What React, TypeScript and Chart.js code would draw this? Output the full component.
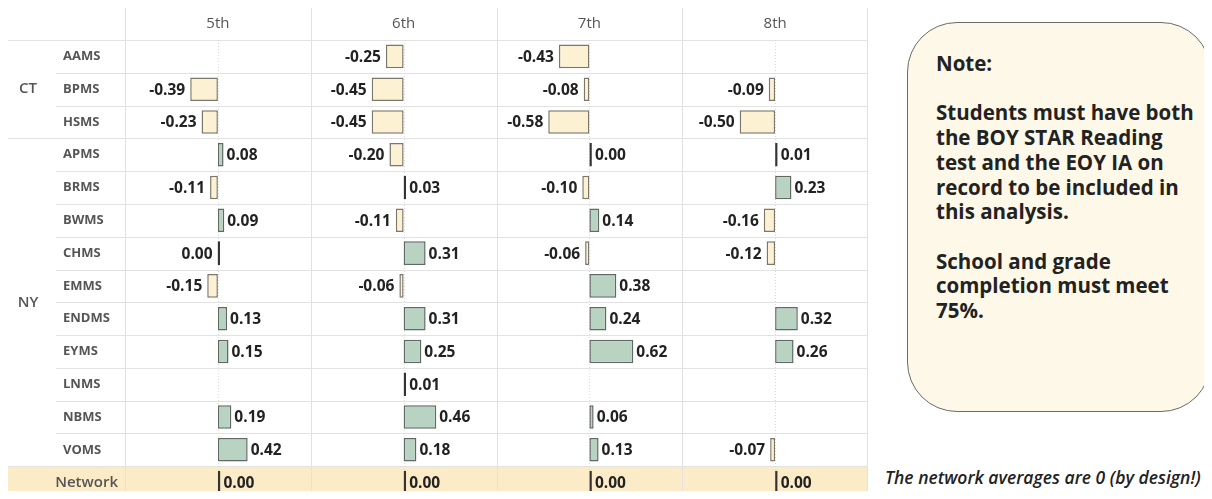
import React, { useEffect, useRef } from "react";
import { Chart, registerables } from "chart.js";

Chart.register(...registerables);

// ---------- data ----------
const schools = ["AAMS", "BPMS", "HSMS", "APMS", "BRMS", "BWMS", "CHMS", "EMMS", "ENDMS", "EYMS", "LNMS", "NBMS", "VOMS", "Network"];
const stateNames = ["CT", "NY"];
const stateRowCounts = [3, 10];
const grades = ["5th", "6th", "7th", "8th"];

const grade5: (number | null)[] = [null, -0.39, -0.23, 0.08, -0.11, 0.09, -0.004, -0.15, 0.13, 0.15, null, 0.19, 0.42, 0.0];
const grade6: (number | null)[] = [-0.25, -0.45, -0.45, -0.2, 0.03, -0.11, 0.31, -0.06, 0.31, 0.25, 0.01, 0.46, 0.18, 0.0];
const grade7: (number | null)[] = [-0.43, -0.08, -0.58, 0.0, -0.1, 0.14, -0.06, 0.38, 0.24, 0.62, null, 0.06, 0.13, 0.0];
const grade8: (number | null)[] = [null, -0.09, -0.5, 0.01, 0.23, -0.16, -0.12, null, 0.32, 0.26, null, null, -0.07, 0.0];

const gradeValues = [grade5, grade6, grade7, grade8];

// each grade panel spans -HALF..+HALF on the shared x scale
const HALF = 1.31;
const SPAN = HALF * 2;

const FONT = "'Open Sans', 'Noto Sans', sans-serif";
const POS_FILL = "#b9d3c3";
const NEG_FILL = "#fdf1d3";
const GRID = "#e2e2e2";

const fmt = (v: number) => (Math.abs(v) < 0.005 ? "0.00" : v.toFixed(2));

const tablePlugin = {
  id: "tablePlugin",
  beforeDatasetsDraw(chart: any) {
    const { ctx, chartArea: a, scales } = chart;
    const x = scales.x;
    const y = scales.y;
    const n = schools.length;
    const rowH = y.getPixelForValue(1) - y.getPixelForValue(0);
    const rowTop = (i: number) => y.getPixelForValue(i) - rowH / 2;
    ctx.save();

    // Network row background
    ctx.fillStyle = "#fcebc7";
    ctx.fillRect(0, rowTop(n - 1), a.right, a.bottom - rowTop(n - 1));

    // horizontal row lines
    ctx.strokeStyle = GRID;
    ctx.lineWidth = 1;
    const groupStarts = [0];
    let acc = 0;
    stateRowCounts.forEach((c) => {
      acc += c;
      groupStarts.push(acc);
    });
    for (let i = 0; i < n; i++) {
      const yy = Math.round(rowTop(i)) + 0.5;
      const full = groupStarts.includes(i);
      ctx.beginPath();
      ctx.moveTo(full ? 0 : 48, yy);
      ctx.lineTo(a.right, yy);
      ctx.stroke();
    }

    // vertical panel lines
    for (let j = 0; j <= grades.length; j++) {
      let xx = Math.round(x.getPixelForValue(j * SPAN)) + 0.5;
      if (xx > a.right - 0.5) xx = a.right - 0.5;
      ctx.beginPath();
      ctx.moveTo(xx, 0);
      ctx.lineTo(xx, a.bottom);
      ctx.stroke();
    }

    // zero reference lines (dotted)
    ctx.strokeStyle = "#d9d9d9";
    ctx.setLineDash([1, 2]);
    for (let j = 0; j < grades.length; j++) {
      const xx = Math.round(x.getPixelForValue(j * SPAN + HALF)) + 0.5;
      ctx.beginPath();
      ctx.moveTo(xx, a.top);
      ctx.lineTo(xx, a.bottom);
      ctx.stroke();
    }
    ctx.setLineDash([]);

    // grade headers
    ctx.fillStyle = "#555";
    ctx.font = `400 15px ${FONT}`;
    ctx.textAlign = "center";
    ctx.textBaseline = "middle";
    grades.forEach((g, j) => {
      ctx.fillText(g, x.getPixelForValue(j * SPAN + HALF), a.top / 2);
    });

    // school labels
    schools.forEach((s, i) => {
      const cy = y.getPixelForValue(i);
      if (i === n - 1) {
        ctx.font = `600 15px ${FONT}`;
        ctx.textAlign = "right";
        ctx.fillStyle = "#555";
        ctx.fillText(s, 110, cy);
      } else {
        ctx.font = `700 13px ${FONT}`;
        ctx.textAlign = "left";
        ctx.fillStyle = "#555";
        ctx.fillText(s, 55, cy);
      }
    });

    // state labels
    ctx.font = `600 15px ${FONT}`;
    ctx.textAlign = "center";
    ctx.fillStyle = "#555";
    let start = 0;
    stateNames.forEach((st, k) => {
      const end = start + stateRowCounts[k] - 1;
      const cy = (y.getPixelForValue(start) + y.getPixelForValue(end)) / 2;
      ctx.fillText(st, 20, cy);
      start = end + 1;
    });

    ctx.restore();
  },
  afterDatasetsDraw(chart: any) {
    const { ctx } = chart;
    ctx.save();
    ctx.font = `700 15.5px ${FONT}`;
    ctx.fillStyle = "#222";
    ctx.textBaseline = "middle";
    gradeValues.forEach((vals, j) => {
      const meta = chart.getDatasetMeta(j);
      vals.forEach((v, i) => {
        if (v == null) return;
        const el = meta.data[i];
        if (!el) return;
        const p = el.getProps(["x", "base", "y"], true);
        if (v < 0) {
          ctx.textAlign = "right";
          ctx.fillText(fmt(v), Math.min(p.x, p.base) - 5, p.y + 1);
        } else {
          ctx.textAlign = "left";
          ctx.fillText(fmt(v), Math.max(p.x, p.base) + 3, p.y + 1);
        }
      });
    });
    ctx.restore();
  },
};

export default function App() {
  const canvasRef = useRef<HTMLCanvasElement | null>(null);

  useEffect(() => {
    if (!canvasRef.current) return;
    const datasets = gradeValues.map((vals, j) => ({
      label: grades[j],
      data: vals.map((v) => (v == null ? null : [j * SPAN + HALF, j * SPAN + HALF + v])),
      backgroundColor: vals.map((v) => (v != null && v < 0 ? NEG_FILL : POS_FILL)),
      borderColor: vals.map((v) =>
        v != null && Math.abs(v) <= 0.03 ? "#333333" : v != null && v < 0 ? "#7d776b" : "#626864"
      ),
      borderWidth: 1.5,
      borderSkipped: false as any,
      grouped: false,
      categoryPercentage: 1,
      barPercentage: 0.72,
      minBarLength: 2.5,
    }));

    const chart = new Chart(canvasRef.current, {
      type: "bar",
      data: { labels: schools, datasets: datasets as any },
      options: {
        indexAxis: "y",
        responsive: true,
        maintainAspectRatio: false,
        animation: false,
        layout: { padding: { left: 117, top: 32, right: 0, bottom: 0 } },
        scales: {
          x: { type: "linear", min: 0, max: SPAN * grades.length, display: false },
          y: { type: "category", display: false, offset: true },
        },
        plugins: {
          legend: { display: false },
          tooltip: { enabled: false },
        },
      },
      plugins: [tablePlugin],
    });
    return () => chart.destroy();
  }, []);

  return (
    <div style={{ position: "relative", width: 1196, height: 491, marginBottom: -8 }}>
      <div style={{ position: "absolute", left: 0, top: 0, width: 860, height: 491 }}>
        <canvas ref={canvasRef} />
      </div>
      <div
        style={{
          position: "absolute",
          left: 899,
          top: 14,
          width: 304,
          height: 390,
          boxSizing: "border-box",
          border: "1px solid #6a6a6a",
          borderRadius: 50,
          background: "#fdf8e8",
          padding: "28px 4px 0 28px",
          fontFamily: FONT,
          fontWeight: 700,
          fontSize: 20.5,
          lineHeight: "24.7px",
          color: "#222",
          whiteSpace: "nowrap",
        }}
      >
        <div>Note:</div>
        <div>&nbsp;</div>
        <div>Students must have both</div>
        <div>the BOY STAR Reading</div>
        <div>test and the EOY IA on</div>
        <div>record to be included in</div>
        <div>this analysis.</div>
        <div>&nbsp;</div>
        <div>School and grade</div>
        <div>completion must meet</div>
        <div>75%.</div>
      </div>
      <div
        style={{
          position: "absolute",
          left: 877,
          top: 458,
          fontFamily: FONT,
          fontStyle: "italic",
          fontWeight: 600,
          fontSize: 17.5,
          lineHeight: "22px",
          color: "#222",
          whiteSpace: "nowrap",
        }}
      >
        The network averages are 0 (by design!)
      </div>
    </div>
  );
}
